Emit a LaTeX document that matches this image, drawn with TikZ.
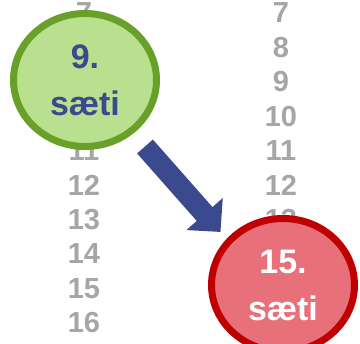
\documentclass[tikz,border=0pt]{standalone}
\usepackage{fontspec}
\setmainfont{Liberation Sans}
\usetikzlibrary{shapes.geometric,arrows.meta}
\definecolor{numgray}{HTML}{A6A6A6}
\definecolor{darkblue}{HTML}{3B4A8F}
\definecolor{lgreen}{HTML}{B8E08F}
\definecolor{dgreen}{HTML}{69A02A}
\definecolor{lred}{HTML}{E8707A}
\definecolor{dred}{HTML}{C00000}
\tikzset{
  num/.style={text=numgray,font=\fontsize{29}{29}\selectfont\bfseries,inner sep=0pt,anchor=center},
  place/.style={ellipse,line width=7pt,minimum width=143pt,minimum height=133pt,inner sep=0pt,align=center,font=\fontsize{34}{47}\selectfont\bfseries},
  bigarrow/.style={draw=darkblue,line width=21pt,-{Triangle[length=24pt,width=47pt]}}
}
\begin{document}
\begin{tikzpicture}[x=1pt,y=-1pt]
\useasboundingbox (0,0) rectangle (360,344);
\foreach \n/\i in {7/0,11/4,12/5,13/6,14/7,15/8,16/9}{
  \node[num] (l\n) at (84,13+34.4*\i) {\n};
}
\foreach \n/\i in {7/0,8/1,9/2,10/3,11/4,12/5,13/6}{
  \node[num] (r\n) at (281,13+34.4*\i) {\n};
}
\node[place,draw=dgreen,fill=lgreen,text=darkblue] (g) at (85,80) {9.\\sæti};
\node[place,draw=dred,fill=lred,text=white] (r) at (283,285) {15.\\sæti};
\coordinate (as) at (145,146.5);
\coordinate (ae) at (220.5,232);
\draw[bigarrow] (as) -- (ae);
\end{tikzpicture}
\end{document}
